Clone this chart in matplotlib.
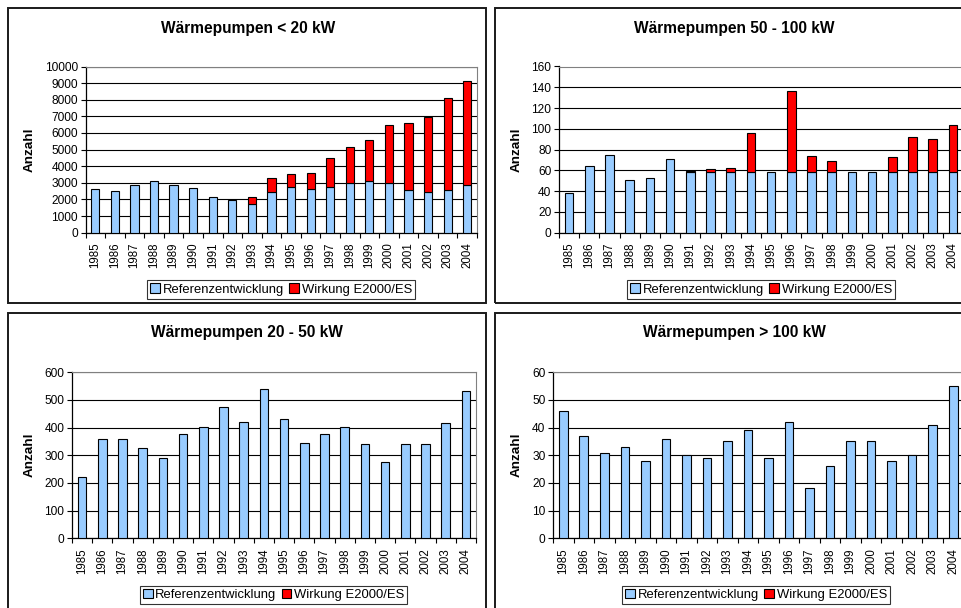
import matplotlib
matplotlib.use("Agg")
import matplotlib.pyplot as plt
from matplotlib.patches import Rectangle, Patch
import numpy as np

plt.rcParams['font.family'] = ['Liberation Sans', 'DejaVu Sans']

years = [str(y) for y in range(1985, 2005)]

ref_lt20 = [2650, 2500, 2840, 3100, 2900, 2700, 2120, 1940, 1720, 2460,
            2720, 2620, 2720, 2980, 3100, 3020, 2580, 2440, 2560, 2860]
wirk_lt20 = [0, 0, 0, 0, 0, 0, 0, 0, 400, 860,
             820, 960, 1760, 2160, 2460, 3460, 4000, 4520, 5540, 6240]

ref_50_100 = [38, 64, 75, 51, 53, 71, 58, 58, 58, 58,
              58, 58, 58, 58, 58, 58, 58, 58, 58, 58]
wirk_50_100 = [0, 0, 0, 0, 0, 0, 1.5, 3, 4, 38,
               0, 78, 16, 11, 0, 0, 15, 34, 32, 46]

ref_20_50 = [222, 360, 359, 325, 290, 378, 404, 473, 420, 541,
             431, 345, 378, 404, 340, 275, 340, 340, 417, 534]
wirk_20_50 = [0, 0, 0, 0, 0, 0, 0, 0, 0, 0,
              0, 0, 0, 0, 0, 0, 0, 0, 0, 0]

ref_gt100 = [46, 37, 31, 33, 28, 36, 30, 29, 35, 39,
             29, 42, 18, 26, 35, 35, 28, 30, 41, 55]
wirk_gt100 = [0, 0, 0, 0, 0, 0, 0, 0, 0, 0,
              0, 0, 0, 0, 0, 0, 0, 0, 0, 0]

titles = ["Wärmepumpen < 20 kW", "Wärmepumpen 50 - 100 kW",
          "Wärmepumpen 20 - 50 kW", "Wärmepumpen > 100 kW"]
ylims = [(10000, 1000), (160, 20), (600, 100), (60, 10)]
ylabel = "Anzahl"
legend_labels = ["Referenzentwicklung", "Wirkung E2000/ES"]

BLUE = "#99CCFF"
RED = "#FF0000"

W, H = 962, 608
fig = plt.figure(figsize=(W / 100, H / 100), dpi=100)


def fx(x):
    return x / W


def fy(y):
    return 1 - y / H


# panel frames (pixel coords: x0, y0, x1, y1)
boxes = [(8, 8, 486, 303), (495, 8, 975, 303), (8, 313, 486, 620), (495, 313, 975, 620)]
for (x0, y0, x1, y1) in boxes:
    fig.patches.append(Rectangle((fx(x0), fy(y1)), fx(x1 - x0), (y1 - y0) / H,
                                 transform=fig.transFigure, fill=False,
                                 edgecolor="#1a1a1a", linewidth=1.4, zorder=0))

# axes areas (pixel coords: x0, y0(top), x1, y1(bottom))
areas = [(85.5, 66.5, 477, 232.7), (559, 66.5, 963, 232.7),
         (72, 372.3, 476, 538.3), (553, 372.3, 963.5, 538.3)]
title_pos = [(248, 28), (734, 28), (247, 333), (734, 333)]
ylabel_pos = [(30, 150), (517, 150), (30, 455), (517, 455)]
legend_pos = [(281, 289.5), (761, 289.5), (273.5, 595), (756, 595)]

refs = [ref_lt20, ref_50_100, ref_20_50, ref_gt100]
wirks = [wirk_lt20, wirk_50_100, wirk_20_50, wirk_gt100]

x = np.arange(len(years))
for i in range(4):
    x0, y0, x1, y1 = areas[i]
    ax = fig.add_axes([fx(x0), fy(y1), fx(x1 - x0), (y1 - y0) / H])
    ymax, step = ylims[i]
    ax.set_xlim(-0.5, len(years) - 0.5)
    ax.set_ylim(0, ymax)
    ax.set_yticks(np.arange(0, ymax + step / 2, step))
    ax.tick_params(axis='y', labelsize=8.6, length=3.5, width=0.8, pad=2, direction='out')
    ax.set_xticks(x)
    ax.set_xticklabels(years, rotation=90, fontsize=8.3)
    ax.tick_params(axis='x', which='major', length=0, pad=7)
    ax.set_xticks(np.arange(-0.5, len(years), 1), minor=True)
    ax.tick_params(axis='x', which='minor', length=3.5, width=0.8, direction='out')
    ax.yaxis.grid(True, color='black', linewidth=0.8, zorder=1)
    ax.set_axisbelow(True)
    for s in ['top', 'right']:
        ax.spines[s].set_color('#808080')
        ax.spines[s].set_linewidth(0.8)
    for s in ['left', 'bottom']:
        ax.spines[s].set_color('black')
        ax.spines[s].set_linewidth(0.9)
    ax.bar(x, refs[i], width=0.42, color=BLUE, edgecolor='black', linewidth=0.8, zorder=3)
    w = np.array(wirks[i], dtype=float)
    m = w > 0
    ax.bar(x[m], w[m], bottom=np.array(refs[i])[m], width=0.42, color=RED,
           edgecolor='black', linewidth=0.8, zorder=3)

    tx, ty = title_pos[i]
    fig.text(fx(tx), fy(ty), titles[i], ha='center', va='center',
             fontsize=11.2, fontweight='bold')
    lx, ly = ylabel_pos[i]
    fig.text(fx(lx), fy(ly), ylabel, ha='center', va='center', rotation=90,
             fontsize=9.7, fontweight='bold')
    gx, gy = legend_pos[i]
    handles = [Patch(facecolor=BLUE, edgecolor='black', linewidth=0.8),
               Patch(facecolor=RED, edgecolor='black', linewidth=0.8)]
    leg = fig.legend(handles, legend_labels, loc='center',
                     bbox_to_anchor=(fx(gx), fy(gy)), ncol=2, fontsize=9.4,
                     frameon=True, fancybox=False, shadow=False,
                     handlelength=0.75, handleheight=0.75, handletextpad=0.2,
                     columnspacing=0.4, borderpad=0.22, borderaxespad=0)
    leg.get_frame().set_edgecolor('black')
    leg.get_frame().set_linewidth(0.8)

fig.savefig("out.png", dpi=100)
